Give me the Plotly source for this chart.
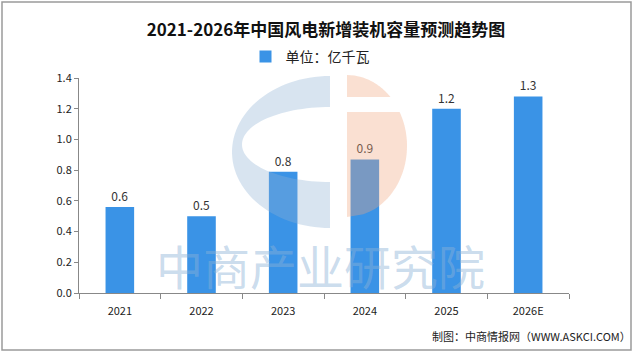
import numpy as np
import plotly.graph_objects as go

# ---- data ----
categories = ["2021", "2022", "2023", "2024", "2025", "2026E"]
values = [0.56, 0.50, 0.79, 0.87, 1.20, 1.28]
series_name = "单位：亿千瓦"
title_text = "2021-2026年中国风电新增装机容量预测趋势图"
source_text = "制图：中商情报网（WWW.ASKCI.COM）"
watermark_text = "中商产业研究院"
y_ticks = [0.0, 0.2, 0.4, 0.6, 0.8, 1.0, 1.2, 1.4]

W, H = 640, 356
L, R, T, B = 79, 71, 78, 63
PW, PH = W - L - R, H - T - B

def px(x):
    return (x - L) / PW

def py(y):
    return (H - B - y) / PH

def path_from(points):
    return "M " + " L ".join(f"{px(x):.4f},{py(y):.4f}" for x, y in points) + " Z"

FONT = "Noto Sans CJK SC, Noto Sans, sans-serif"

fig = go.Figure()
fig.add_trace(go.Bar(
    x=categories, y=values, name=series_name,
    marker=dict(color="#3a93e6", line=dict(width=0)),
    texttemplate="%{y:.1f}", textposition="outside",
    textfont=dict(size=12, color="#333333", family=FONT),
    cliponaxis=False,
))

shapes = []
# logo: blue "C"
t1 = np.linspace(-np.pi / 2, -3 * np.pi / 2, 60)
outer = [(330 + 98 * np.cos(t), 152 + 76 * np.sin(t)) for t in t1]
t2 = np.linspace(-3 * np.pi / 2, -np.pi / 2, 60)
inner = [(330 + 88 * np.cos(t), 144.5 + 37.5 * np.sin(t)) for t in t2]
shapes.append(dict(type="path", path=path_from(outer + inner), xref="paper", yref="paper",
                   fillcolor="#8fb3d5", opacity=0.35, line=dict(width=0), layer="above"))
# logo: orange half
def orange_piece(y0, y1):
    ys = np.linspace(y0, y1, 40)
    pts = [(347 + 60 * np.sqrt(max(0.0, 1 - ((y - 146) / 71) ** 2)), y) for y in ys]
    return [(347, y0)] + pts + [(347, y1)]
for a, b in [(75, 97), (112, 217)]:
    shapes.append(dict(type="path", path=path_from(orange_piece(a, b)), xref="paper", yref="paper",
                       fillcolor="#f0a57e", opacity=0.35, line=dict(width=0), layer="above"))
# frame
shapes.append(dict(type="rect", xref="paper", yref="paper",
                   x0=px(2), x1=px(631), y0=py(350), y1=py(2),
                   line=dict(color="#9a9a9a", width=1.5), fillcolor="rgba(0,0,0,0)", layer="above"))

annotations = [
    dict(text=watermark_text, x=px(320), y=py(264), xref="paper", yref="paper",
         showarrow=False, font=dict(size=47, color="rgba(140,178,214,0.45)", family=FONT),
         xanchor="center", yanchor="middle"),
    dict(text=source_text, x=px(633), y=py(336), xref="paper", yref="paper",
         showarrow=False, font=dict(size=11, color="#222222", family=FONT),
         xanchor="right", yanchor="middle"),
]

fig.update_layout(
    width=W, height=H,
    margin=dict(l=L, r=R, t=T, b=B),
    paper_bgcolor="white", plot_bgcolor="white",
    title=dict(text=f"<b>{title_text}</b>", x=px(326), xref="paper", xanchor="center",
               y=1 - 30 / H, yanchor="middle",
               font=dict(size=17, color="#111111", family=FONT)),
    showlegend=True,
    legend=dict(orientation="h", x=px(310), y=py(57), xref="paper", yref="paper",
                xanchor="center", yanchor="middle",
                font=dict(size=14, color="#222222", family=FONT),
                itemwidth=30, bgcolor="rgba(0,0,0,0)"),
    bargap=0.65,
    shapes=shapes,
    annotations=annotations,
    font=dict(family=FONT),
)
fig.update_xaxes(
    showline=True, linecolor="#888888", linewidth=1,
    ticks="outside", tickson="boundaries", ticklen=5, tickcolor="#888888",
    ticklabelstandoff=8,
    tickfont=dict(size=11, color="#222222", family=FONT),
    showgrid=False, zeroline=False,
)
fig.update_yaxes(
    range=[0, 1.4], tickvals=y_ticks, tickformat=".1f",
    showline=True, linecolor="#888888", linewidth=1,
    ticks="outside", ticklen=4, tickcolor="#888888",
    tickfont=dict(size=11, color="#222222", family=FONT),
    showgrid=False, zeroline=False,
)

fig.write_html("out.html", config={"displayModeBar": False},
               post_script="document.body.style.margin='0';document.body.style.overflow='hidden';")
